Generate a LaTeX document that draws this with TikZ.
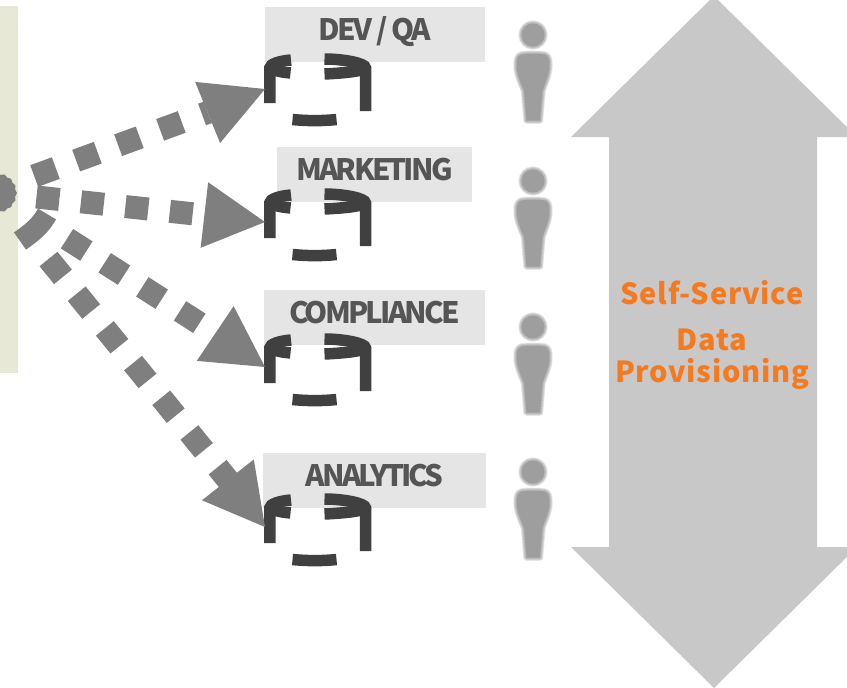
\documentclass[tikz,border=0pt]{standalone}
\usepackage{fontspec}
\usetikzlibrary{arrows.meta,calc,shapes.geometric}
\newfontfamily\lblfont[LetterSpace=-9.5]{Noto Sans CJK SC}
\newfontfamily\orgfont[LetterSpace=2.5]{Noto Sans CJK SC}
\definecolor{flowgray}{HTML}{7F7F7F}
\definecolor{cyldark}{HTML}{404040}
\definecolor{boxgray}{HTML}{E5E5E5}
\definecolor{txtgray}{HTML}{555555}
\definecolor{bandc}{HTML}{E7E8D6}
\definecolor{arrowgray}{HTML}{C8C8C8}
\definecolor{orangetxt}{HTML}{F47A20}
\definecolor{persongray}{HTML}{9E9E9E}
\tikzset{
 x=1pt,y=-1pt,
 flow/.style={draw=flowgray,line width=23pt,dash pattern=on 23pt off 21.7pt,
   -{Triangle[length=#1,width=66pt,fill=flowgray,line width=0pt]}},
 cylnode/.style={minimum width=107pt,minimum height=73pt,inner sep=0pt},
 cylstroke/.style={draw=cyldark,line width=11.5pt},
 lblbox/.style={fill=boxgray,inner sep=0pt,text height=33pt,text depth=22pt,anchor=north,
   font=\lblfont\bfseries\fontsize{29.5}{30}\selectfont,text=txtgray},
 orgtxt/.style={font=\orgfont\bfseries\fontsize{29}{29}\selectfont,text=orangetxt,inner sep=0pt},
 cylpic/.pic={
   \draw[cylstroke] (-26.5,-30) .. controls (-38,-29) and (-47.7,-26) .. (-47.7,-22) -- (-47.7,13);
   \draw[cylstroke] (-47.7,-25) .. controls (-47.7,-20) and (-38,-18) .. (-27,-17);
   \draw[cylstroke] (7,-31) .. controls (25,-31) and (48,-27) .. (48,-22) -- (48,21);
   \draw[cylstroke] (7,-16) .. controls (28,-17) and (48,-19) .. (48,-23);
   \draw[cylstroke] (-25,29.5) .. controls (-10,31) and (5,31) .. (19,29.5);
 },
 personpic/.pic={
   \foreach \w in {6.5,5.5,4.5,3.5,2.5,1.5,0.7}{
   \path[draw=persongray,line width=\w pt,draw opacity=.2,line join=round]
     (0,0) circle[radius=11.5];
   \path[draw=persongray,line width=\w pt,draw opacity=.2,line join=round]
     (-11.5,19.5) .. controls (-5,18.5) and (5,18.5) .. (11.5,19.5)
     .. controls (15.5,20.5) and (16.5,24) .. (16.5,30)
     .. controls (16.5,40) and (12,48) .. (9.5,56) -- (7,85.5) -- (-6.5,85.5) -- (-9,56)
     .. controls (-12,48) and (-16.5,40) .. (-16.5,30) .. controls (-16.5,24) and (-15.5,20.5) .. (-11.5,19.5) -- cycle;
   }
   \fill[persongray] (0,0) circle[radius=11.5];
   \fill[persongray]
     (-11.5,19.5) .. controls (-5,18.5) and (5,18.5) .. (11.5,19.5)
     .. controls (15.5,20.5) and (16.5,24) .. (16.5,30)
     .. controls (16.5,40) and (12,48) .. (9.5,56) -- (7,85.5) -- (-6.5,85.5) -- (-9,56)
     .. controls (-12,48) and (-16.5,40) .. (-16.5,30) .. controls (-16.5,24) and (-15.5,20.5) .. (-11.5,19.5) -- cycle;
 },
}
\begin{document}
\begin{tikzpicture}
\useasboundingbox (0,0) rectangle (847,688);
\fill[bandc] (0,6) rectangle (17.5,373);
% big double arrow
\fill[arrowgray] (714,-4) -- (857,137) -- (817,137) -- (817,547) -- (857,547) -- (714,688) -- (571,547) -- (609,547) -- (609,137) -- (571,137) -- cycle;
\node[orgtxt] (o1) at (712,293) {Self-Service};
\node[orgtxt] (o2) at (712,340) {Data};
\node[orgtxt] (o3) at (712,374) {Provisioning};
% label boxes
\node[lblbox,minimum width=220pt] (l1) at (375,7) {DEV / QA};
\node[lblbox,minimum width=195pt] (l2) at (374.5,147) {MARKETING};
\node[lblbox,minimum width=221pt] (l3) at (374.5,290) {COMPLIANCE};
\node[lblbox,minimum width=223pt] (l4) at (374.5,453) {ANALYTICS};
% cylinders
\node[cylnode] (c1) at (317.5,90) {};
\node[cylnode] (c2) at (317.5,225) {};
\node[cylnode] (c3) at (317.5,370) {};
\node[cylnode] (c4) at (317.5,530) {};
\pic at (c1) {cylpic};
\pic at (c2) {cylpic};
\pic at (c3) {cylpic};
\pic at (c4) {cylpic};
% source shapes
\node[star,star points=16,star point ratio=1.08,fill=flowgray,minimum size=40pt,inner sep=0pt] (src) at (-3,193) {};
\coordinate (ta) at (20,241);
\coordinate (tb) at (47,214);
\draw[draw=flowgray,line width=21pt] (ta) .. controls (33,232) and (41,225) .. (tb);
% connectors
\coordinate (s1) at (34.2,176);
\coordinate (k1) at (207.5,112.5);
\coordinate (s2) at (36.5,197);
\coordinate (k2) at (204,215);
\coordinate (s3) at (67,238.7);
\coordinate (k3) at (213,332);
\coordinate (s4) at (48.5,259);
\coordinate (k4) at (228,480);
\coordinate (t1) at (265,89);
\coordinate (t2) at (265,222);
\coordinate (t3) at (265,367);
\coordinate (t4) at (265,527);
\draw[flow=62pt] (s1) -- (k1) -- (t1);
\draw[flow=61pt] (s2) -- (k2) -- (t2);
\draw[flow=60pt] (s3) -- (k3) -- (t3);
\draw[flow=60pt] (s4) -- (k4) -- (t4);
% people
\pic at (533,35) {personpic};
\pic at (533,181) {personpic};
\pic at (533,327) {personpic};
\pic at (533,472) {personpic};
\end{tikzpicture}
\end{document}
